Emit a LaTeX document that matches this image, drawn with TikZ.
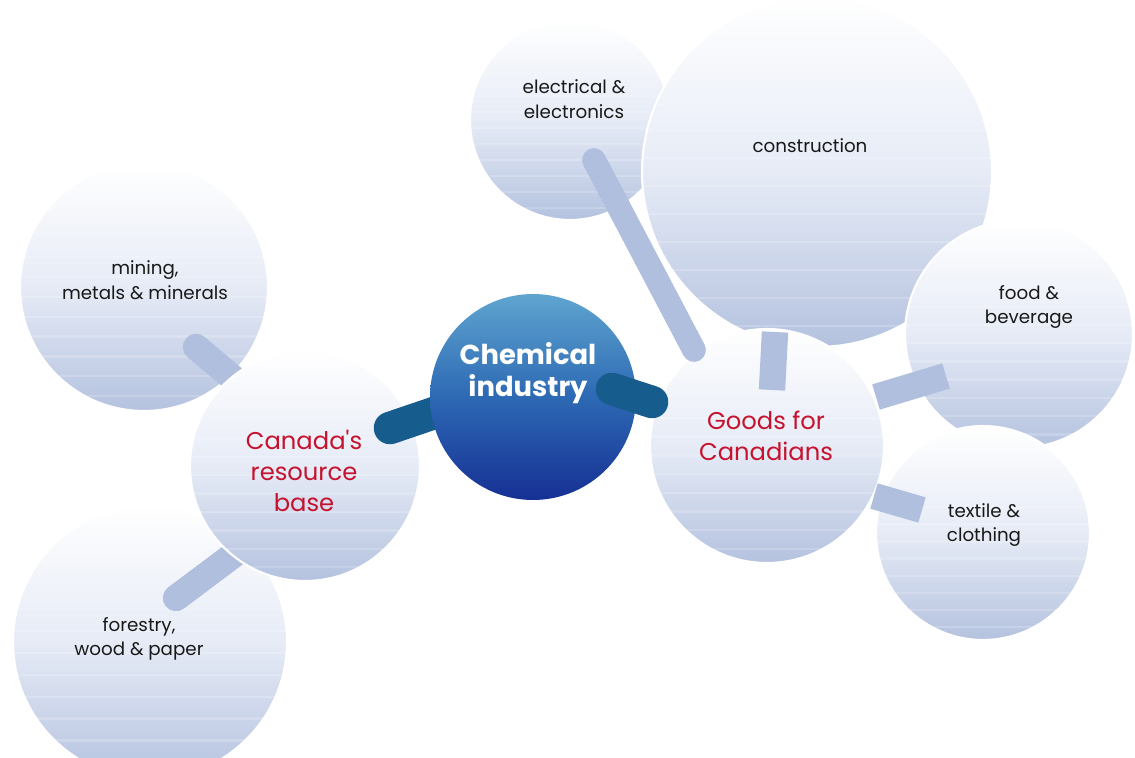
\documentclass[tikz,border=0pt]{standalone}
\usepackage{fontspec}
\newfontfamily\pop{Poppins}
\usetikzlibrary{calc}
\definecolor{bubblebot}{RGB}{180,194,223}
\definecolor{bubblemid}{RGB}{230,235,246}
\definecolor{lbarc}{RGB}{176,191,221}
\definecolor{dbarc}{RGB}{22,92,140}
\definecolor{chemtop}{RGB}{95,165,208}
\definecolor{chemmid}{RGB}{45,105,180}
\definecolor{chembot}{RGB}{22,48,148}
\definecolor{redtxt}{RGB}{198,18,46}
\tikzset{
  bubble/.style={circle, draw=white, line width=1.2pt, inner sep=0pt,
    top color=white, bottom color=bubblebot, middle color=bubblemid,
    path picture={\foreach \k in {0.06,0.14,...,0.7}{
      \draw[white,opacity=0.18,line width=1.4pt]
        ($(path picture bounding box.south west)!\k!(path picture bounding box.north west)$) --
        ($(path picture bounding box.south east)!\k!(path picture bounding box.north east)$);}}},
  chembubble/.style={circle, inner sep=0pt, draw=none,
    top color=chemtop, bottom color=chembot, middle color=chemmid},
  lightbar/.style={draw=lbarc, line width=15pt, line cap=round},
  darkbar/.style={draw=dbarc, line width=18.5pt, line cap=round},
  lab/.style={font=\pop\fontsize{10.4}{14}\selectfont, align=center, text=black!90, inner sep=0pt},
  redlab/.style={font=\pop\fontsize{13.8}{17.6}\selectfont, align=center, text=redtxt, inner sep=0pt},
  chemlab/.style={font=\pop\bfseries\fontsize{15.6}{18.6}\selectfont, align=center, text=white, inner sep=0pt}
}
\begin{document}
\begin{tikzpicture}[x=0.02cm,y=-0.02cm]
\useasboundingbox (0,0) rectangle (1135,757);
\fill[white] (0,0) rectangle (1135,757);
\begin{scope}
\clip (0,0) rectangle (1135,757);
% left satellites
\node[bubble, minimum size=4.96cm] (mining) at (144,287) {};
\node[bubble, minimum size=5.48cm] (forestry) at (150,642) {};
% right satellites
\node[bubble, minimum size=4.0cm] (elec) at (570,120) {};
\node[bubble, minimum size=7.0cm] (constr) at (817,172) {};
\node[bubble, minimum size=4.56cm] (food) at (1019,334) {};
\node[bubble, minimum size=4.28cm] (textile) at (983,533) {};
\node[bubble, minimum size=4.68cm] (goods) at (767,446) {};
% left bars
\coordinate (m1) at (196,347);
\coordinate (m2) at (240,384);
\draw[lightbar] (m1) -- (m2);
\coordinate (f1) at (176,598);
\coordinate (f2) at (240,550);
\draw[lightbar] (f1) -- (f2);
\node[bubble, minimum size=4.6cm] (canada) at (305,466) {};
% right bars
\coordinate (e1) at (594,160);
\coordinate (e2) at (694,350);
\draw[lightbar, line width=13.5pt] (e1) -- (e2);
\coordinate (c1) at (775,332);
\coordinate (c2) at (772,390);
\draw[lightbar, line cap=butt] (c1) -- (c2);
\coordinate (fd1) at (876,397);
\coordinate (fd2) at (946,376);
\draw[lightbar, line cap=butt] (fd1) -- (fd2);
\coordinate (t1) at (874,496);
\coordinate (t2) at (922,510);
\draw[lightbar, line cap=butt] (t1) -- (t2);
% dark bars
\coordinate (d1) at (390,428);
\coordinate (d2) at (440,411);
\draw[darkbar] (d1) -- (d2);
\node[chembubble, minimum size=4.12cm] (chem) at (533,397) {};
\coordinate (d3) at (612,389);
\coordinate (d4) at (652,402);
\draw[darkbar] (d3) -- (d4);
\end{scope}
% labels
\node[lab] (tmining) at (145,280) {mining,\\metals \& minerals};
\node[lab] (tforestry) at (139,639) {forestry,\\wood \& paper};
\node[lab] (telec) at (574,99) {electrical \&\\electronics};
\node[lab] (tconstr) at (810,146) {construction};
\node[lab] (tfood) at (1029,307) {food \&\\beverage};
\node[lab] (ttextile) at (984,525) {textile \&\\clothing};
\node[redlab] (tcanada) at (304,471) {Canada's\\resource\\base};
\node[redlab] (tgoods) at (766,436) {Goods for\\Canadians};
\node[chemlab] (tchem) at (528,373) {Chemical\\industry};
\end{tikzpicture}
\end{document}
